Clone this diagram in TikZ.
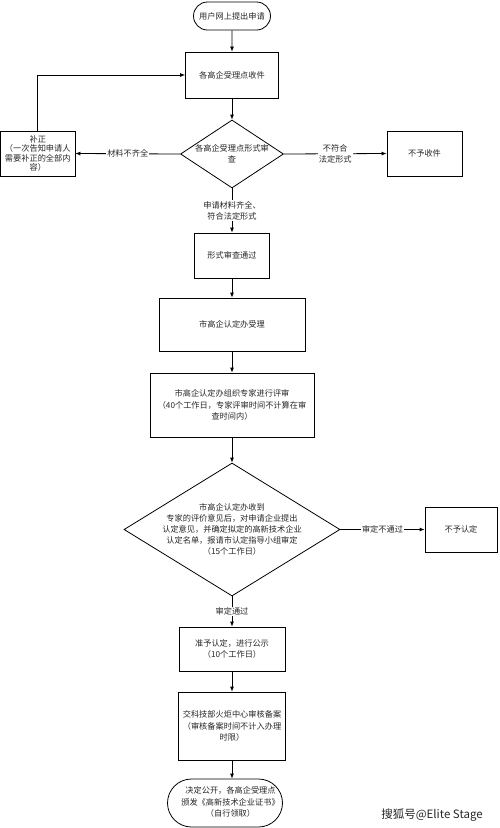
\documentclass[tikz,border=0pt]{standalone}
\usepackage{fontspec}
\setmainfont{Noto Sans CJK SC}
\usetikzlibrary{arrows.meta,shapes.geometric,shapes.misc}
\begin{document}
\begin{tikzpicture}[x=1pt,y=-1pt,
  every node/.style={font=\fontsize{8.2}{11.2}\selectfont, text=black!85, align=center},
  box/.style={draw, line width=0.8pt, inner sep=0pt},
  dia/.style={draw, diamond, line width=0.8pt, inner sep=0pt},
  term/.style={draw, rounded rectangle, line width=0.8pt, inner sep=0pt},
  arr/.style={-{Latex[length=5pt,width=4pt]}, line width=0.8pt},
  lab/.style={fill=white, inner sep=1pt}]
\useasboundingbox (0,0) rectangle (500,828);

\node[term, minimum width=77pt, minimum height=28pt] (start) at (232,16) {用户网上提出申请};
\node[box, minimum width=93pt, minimum height=46pt] (recv) at (232,75) {各高企受理点收件};
\node[dia, minimum width=103pt, minimum height=68pt] (d1) at (232,154) {};
\node (d1t) at (d1) {各高企受理点形式审\\查};
\node[box, minimum width=74.5pt, minimum height=45pt, font=\fontsize{8.2}{9.6}\selectfont] (fix) at (37.75,153.5) {补正\\（一次告知申请人\\需要补正的全部内\\容）};
\node[box, minimum width=75pt, minimum height=45pt] (rej1) at (424.5,153.5) {不予收件};

\draw[arr] (start) -- (recv);
\draw[arr] (recv) -- (d1);
\draw[arr] (d1.west) -- node[lab]{材料不齐全} (fix.east);
\draw[arr] (d1.east) -- node[lab]{不符合\\法定形式} (rej1.west);
\draw[arr] (fix.north) |- (recv.west);

\node[box, minimum width=75pt, minimum height=45pt] (pass) at (232,255.5) {形式审查通过};
\draw[arr] (d1.south) -- node[lab]{申请材料齐全、\\符合法定形式} (pass.north);

\node[box, minimum width=146pt, minimum height=53pt] (acc) at (232,324.5) {市高企认定办受理};
\draw[arr] (pass) -- (acc);

\node[box, minimum width=164pt, minimum height=64pt] (rev) at (232,405) {市高企认定办组织专家进行评审\\（40个工作日，专家评审时间不计算在审\\查时间内）};
\draw[arr] (acc) -- (rev);

\node[dia, minimum width=216pt, minimum height=133pt] (d2) at (232,529.5) {};
\node (d2t) at (d2) {市高企认定办收到\\专家的评价意见后，对申请企业提出\\认定意见，并确定拟定的高新技术企业\\认定名单，报请市认定指导小组审定\\（15个工作日）};
\draw[arr] (rev) -- (d2);

\node[box, minimum width=72pt, minimum height=45pt] (rej2) at (461,529.5) {不予认定};
\draw[arr] (d2.east) -- node[lab]{审定不通过} (rej2.west);

\node[box, minimum width=106pt, minimum height=44pt] (pub) at (232,649) {准予认定，进行公示\\（10个工作日）};
\draw[arr] (d2.south) -- node[lab]{审定通过} (pub.north);

\node[box, minimum width=107pt, minimum height=68pt] (rec) at (232,726) {交科技部火炬中心审核备案\\（审核备案时间不计入办理\\时限）};
\draw[arr] (pub) -- (rec);

\node[term, minimum width=115pt, minimum height=48pt] (end) at (225,803) {};
\node (endt) at (230.5,802) {决定公开，各高企受理点\\颁发《高新技术企业证书》\\（自行领取）};
\draw[arr] (rec.south) -- (rec.south |- end.north);

\node[font=\fontsize{11.5}{13}\selectfont, text=black!85] (wm) at (432,815) {搜狐号@Elite Stage};
\end{tikzpicture}
\end{document}
